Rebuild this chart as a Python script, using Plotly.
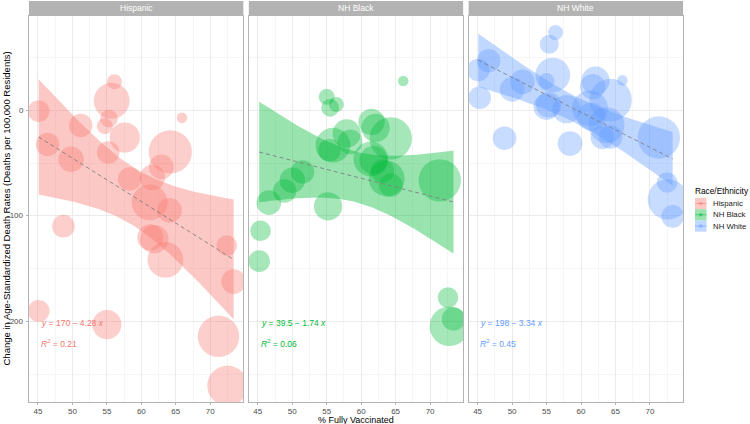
import numpy as np
import plotly.graph_objects as go

groups = ["Hispanic", "NH Black", "NH White"]
colors = ["#F8766D", "#00BA38", "#619CFF"]
rgb = [(248, 118, 109), (0, 186, 56), (97, 156, 255)]
fills = [f"rgba({r},{g},{b},0.5)" for r, g, b in rgb]
band_fills = [f"rgba({r},{g},{b},0.4)" for r, g, b in rgb]

hisp_x = [45.1, 56.1, 55.7, 65.9, 55.3, 54.7, 51.2, 46.4, 57.6, 55.2, 49.8, 64.2, 62.9, 58.3,
          61.6, 61.2, 64.1, 48.7, 61.3, 61.9, 63.5, 72.4, 73.4, 45.1, 55.0, 71.2, 72.5]
hisp_y = [-1, 26.8, 8.8, -7.3, -7.9, -15.2, -14.5, -32.5, -25.9, -40.1, -46.4, -39.5, -53.7, -65.1,
          -63.8, -87.2, -94.8, -109.7, -120.4, -122, -141.6, -128, -162.1, -189.9, -202.8, -213.9, -260.7]
hisp_pop = [59, 28, 161, 14, 40, 32, 69, 69, 114, 64, 81, 234, 76, 69,
            81, 161, 76, 64, 86, 100, 161, 53, 76, 59, 106, 216, 204]

black_x = [66.1, 55.0, 56.4, 55.5, 61.5, 62.1, 57.9, 58.4, 64.3, 55.9, 55.4, 61.4, 61.8, 51.5,
           63.1, 63.7, 50.0, 64.3, 71.4, 48.9, 46.6, 55.2, 45.4, 45.2, 72.6, 73.4, 72.8]
black_y = [27.5, 12.6, 5.4, 2.2, -11.1, -16.8, -22.1, -30.0, -26.8, -33.2, -37.9, -46.2, -47.4, -58.5,
           -57.5, -64.7, -66.4, -71.1, -66.4, -76.5, -87.5, -91, -114, -142.8, -177.3, -197.5, -204.4]
black_pop = [14, 32, 28, 40, 86, 100, 100, 76, 225, 151, 64, 151, 100, 69,
             69, 161, 81, 69, 225, 69, 76, 100, 53, 59, 53, 69, 196]

white_x = [56.3, 55.4, 46.6, 45.1, 66.0, 55.9, 62.1, 51.5, 55.0, 61.7, 50.0, 64.3, 45.3, 55.3,
           55.0, 57.9, 61.3, 61.5, 63.7, 63.1, 64.3, 48.9, 58.4, 71.3, 72.5, 72.6, 73.3]
white_y = [73.3, 62.3, 46.7, 37.9, 28.1, 33.2, 27.8, 26.8, 27.5, 22.1, 19.6, 9.5, 11.7, 5.0,
           3.1, 0.9, 1.6, -6.3, -14.2, -25.9, -25.3, -26.5, -31.6, -25.9, -68.5, -84.4, -100.5]
white_pop = [28, 45, 69, 64, 14, 151, 100, 76, 32, 81, 76, 225, 64, 81,
             86, 100, 161, 100, 161, 69, 69, 69, 76, 225, 53, 204, 64]

eq_labels = ["<i>y</i> = 170 − 4.28 <i>x</i>",
             "<i>y</i> = 39.5 − 1.74 <i>x</i>",
             "<i>y</i> = 198 − 3.34 <i>x</i>"]
r2_labels = ["<i>R</i><sup>2</sup> = 0.21",
             "<i>R</i><sup>2</sup> = 0.06",
             "<i>R</i><sup>2</sup> = 0.45"]

x_ticks = [45, 50, 55, 60, 65, 70]
y_ticks = [-200, -100, 0]
y_ticklabels = ["-200", "-100", "0"]

data = [(hisp_x, hisp_y, hisp_pop), (black_x, black_y, black_pop), (white_x, white_y, white_pop)]

T_975 = 2.0595  # t quantile, df = 25

fig = go.Figure()
FONT = "Liberation Sans, Arial, sans-serif"

for i, (g, (xs, ys, ps)) in enumerate(zip(groups, data)):
    xa = "x" if i == 0 else f"x{i+1}"
    ya = "y" if i == 0 else f"y{i+1}"
    x = np.array(xs, float)
    y = np.array(ys, float)
    n = len(x)
    b, a = np.polyfit(x, y, 1)
    resid = y - (a + b * x)
    s = np.sqrt(np.sum(resid ** 2) / (n - 2))
    xm = x.mean()
    sxx = np.sum((x - xm) ** 2)
    xg = np.linspace(x.min(), x.max(), 80)
    yg = a + b * xg
    se = s * np.sqrt(1.0 / n + (xg - xm) ** 2 / sxx)
    lo = yg - T_975 * se
    hi = yg + T_975 * se

    fig.add_trace(go.Scatter(
        x=x, y=y, mode="markers", xaxis=xa, yaxis=ya, showlegend=False,
        marker=dict(size=ps, sizemode="area", sizeref=0.25, color=fills[i], line=dict(width=0)),
        hoverinfo="x+y"))
    fig.add_trace(go.Scatter(
        x=np.concatenate([xg, xg[::-1]]), y=np.concatenate([hi, lo[::-1]]),
        fill="toself", fillcolor=band_fills[i], line=dict(width=0), mode="lines",
        xaxis=xa, yaxis=ya, showlegend=False, hoverinfo="skip"))
    fig.add_trace(go.Scatter(
        x=xg, y=yg, mode="lines", line=dict(color="rgba(128,128,128,0.9)", width=1, dash="4px,3px"),
        xaxis=xa, yaxis=ya, showlegend=False, hoverinfo="skip"))
    fig.add_annotation(x=x.min(), y=-201, xref=xa, yref=ya, text=eq_labels[i], showarrow=False,
                       xanchor="left", yanchor="middle", font=dict(size=8.5, color=colors[i], family=FONT))
    fig.add_annotation(x=x.min(), y=-221, xref=xa, yref=ya, text=r2_labels[i], showarrow=False,
                       xanchor="left", yanchor="middle", font=dict(size=8.5, color=colors[i], family=FONT))

W, H = 750, 424
ml, mr, mt, mb = 29, 67, 16, 22
pw = W - ml - mr
ph = H - mt - mb
gap = 5.5
panel = (pw - 2 * gap) / 3
domains = []
for i in range(3):
    d0 = (i * (panel + gap)) / pw
    d1 = (i * (panel + gap) + panel) / pw
    domains.append([d0, min(d1, 1.0)])

axis_common = dict(
    range=[43.7, 74.8], tickvals=x_ticks, ticktext=[str(v) for v in x_ticks],
    showgrid=True, gridcolor="#EBEBEB", gridwidth=1,
    minor=dict(dtick=2.5, tick0=47.5, showgrid=True, gridcolor="#F5F5F5", gridwidth=0.6),
    showline=True, mirror=True, linecolor="#B3B3B3", linewidth=1,
    ticks="outside", ticklen=2, tickcolor="#B3B3B3", automargin=False, ticklabelstandoff=-1,
    tickfont=dict(size=8, color="#4D4D4D", family=FONT), zeroline=False)
yaxis_common = dict(
    range=[-276, 89], tickvals=y_ticks, showgrid=True, gridcolor="#EBEBEB", gridwidth=1,
    minor=dict(tickvals=[-250, -150, -50, 50], showgrid=True, gridcolor="#F5F5F5", gridwidth=0.6),
    showline=True, mirror=True, linecolor="#B3B3B3", linewidth=1, zeroline=False, automargin=False,
    showticklabels=False)

layout = dict(
    width=W, height=H, margin=dict(l=ml, r=mr, t=mt, b=mb, autoexpand=False),
    plot_bgcolor="white", paper_bgcolor="white",
    font=dict(family=FONT), showlegend=False,
)
for i in range(3):
    xk = "xaxis" if i == 0 else f"xaxis{i+1}"
    yk = "yaxis" if i == 0 else f"yaxis{i+1}"
    ax = dict(axis_common)
    ax["domain"] = domains[i]
    ax["anchor"] = "y" if i == 0 else f"y{i+1}"
    layout[xk] = ax
    ay = dict(yaxis_common)
    ay["anchor"] = "x" if i == 0 else f"x{i+1}"
    if i == 0:
        ay["ticks"] = "outside"
        ay["ticklen"] = 2
        ay["tickcolor"] = "#B3B3B3"
    else:
        ay["matches"] = "y"
    layout[yk] = ay

fig.update_layout(**layout)

# y tick labels (left of first panel)
for v, t in zip(y_ticks, y_ticklabels):
    fig.add_annotation(xref="paper", yref="y", x=-3.5 / pw, y=v, text=t, showarrow=False,
                       xanchor="right", yanchor="middle",
                       font=dict(size=8, color="#4D4D4D", family=FONT))

# facet strips
for i, g in enumerate(groups):
    xr = "x domain" if i == 0 else f"x{i+1} domain"
    fig.add_shape(type="rect", xref=xr, yref="paper", x0=0, x1=1,
                  y0=1 + 1 / ph, y1=1 + 15 / ph, fillcolor="#B3B3B3", line=dict(width=0), layer="above")
    fig.add_annotation(xref=xr, yref="paper", x=0.5, y=1 + 8 / ph, text=g, showarrow=False,
                       font=dict(size=8.5, color="white", family=FONT), xanchor="center", yanchor="middle")

# axis titles
fig.add_annotation(xref="paper", yref="paper", x=0.5, y=-18 / ph, text="% Fully Vaccinated",
                   showarrow=False, xanchor="center", yanchor="middle",
                   font=dict(size=9, color="black", family=FONT))
fig.add_annotation(xref="paper", yref="paper", x=-23.5 / pw, y=0.5,
                   text="Change in Age-Standardized Death Rates (Deaths per 100,000 Residents)",
                   showarrow=False, textangle=-90, xanchor="center", yanchor="middle",
                   font=dict(size=9.5, color="black", family=FONT))

# legend (drawn like ggplot keys)
def px2x(p):
    return (p - ml) / pw

def py2y(p):
    return (H - mb - p) / ph

fig.add_annotation(xref="paper", yref="paper", x=px2x(693), y=py2y(191), text="Race/Ethnicity",
                   showarrow=False, xanchor="left", yanchor="middle",
                   font=dict(size=8.3, color="black", family=FONT))
for i, g in enumerate(groups):
    cy = 203.5 + i * 11.3
    fig.add_shape(type="rect", xref="paper", yref="paper",
                  x0=px2x(695), x1=px2x(706.5), y0=py2y(cy + 5.6), y1=py2y(cy - 5.6),
                  fillcolor=band_fills[i], line=dict(width=0))
    fig.add_shape(type="line", xref="paper", yref="paper",
                  x0=px2x(695), x1=px2x(706.5), y0=py2y(cy), y1=py2y(cy),
                  line=dict(color=fills[i], width=1))
    fig.add_shape(type="circle", xref="paper", yref="paper",
                  x0=px2x(699), x1=px2x(702.5), y0=py2y(cy + 1.75), y1=py2y(cy - 1.75),
                  fillcolor=fills[i], line=dict(width=0))
    fig.add_annotation(xref="paper", yref="paper", x=px2x(710.5), y=py2y(cy), text=g,
                       showarrow=False, xanchor="left", yanchor="middle",
                       font=dict(size=7.8, color="#1A1A1A", family=FONT))

fig.write_html("out.html", config={"displayModeBar": False},
               post_script="document.body.style.margin='0';document.body.style.overflow='hidden';")
